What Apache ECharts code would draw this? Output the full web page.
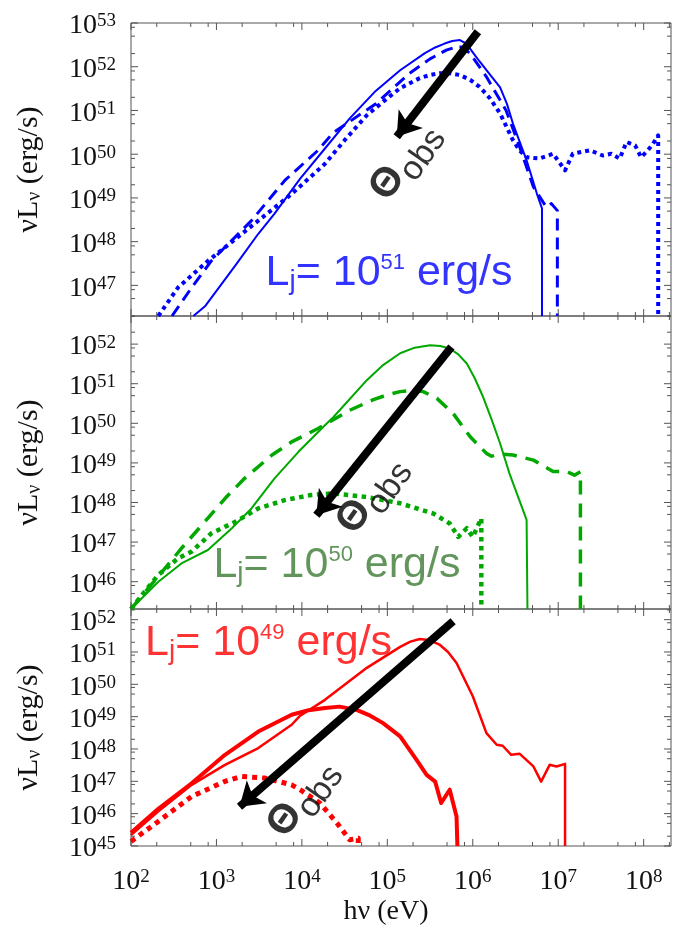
<!DOCTYPE html>
<html><head><meta charset="utf-8">
<script src="https://cdn.jsdelivr.net/npm/echarts@6/dist/echarts.min.js"></script>
<style>html,body{margin:0;padding:0;background:#fff}#c{width:673px;height:937px}</style>
</head><body><div id="c"></div>
<script>
// All values are log10: x = log10(hν / eV), y = log10(νLν / erg s^-1)
const xRange = [2, 8.32];
const yRanges = [[46.3, 53], [45.31, 52.71], [44.999, 52.33]];

// ---- Panel 1 : Lj = 1e51 erg/s (blue)
const blueSolid = [[2.73,46.3],[2.87,46.53],[3.22,47.45],[3.49,48.18],[3.68,48.64],[3.98,49.44],[4.27,50.13],[4.56,50.82],[4.85,51.42],[5.15,51.92],[5.44,52.31],[5.56,52.44],[5.67,52.53],[5.76,52.59],[5.85,52.61],[5.93,52.52],[6.0,52.33],[6.08,52.12],[6.16,51.92],[6.32,51.53],[6.4,51.15],[6.47,50.7],[6.63,49.86],[6.75,49.1],[6.81,48.76],[6.81,46.3]];
const blueDashed = [[2.48,46.3],[2.71,46.95],[2.94,47.56],[3.41,48.48],[3.8,49.4],[4.19,50.09],[4.36,50.48],[4.87,51.16],[5.26,51.85],[5.5,52.18],[5.69,52.38],[5.8,52.45],[5.88,52.45],[5.97,52.3],[6.06,52.05],[6.16,51.77],[6.39,51.0],[6.55,50.16],[6.71,49.25],[6.86,48.79],[6.92,48.87],[6.99,48.71],[6.99,46.3]];
const blueDotted = [[2.32,46.3],[2.55,46.95],[2.9,47.56],[3.1,47.87],[3.49,48.48],[3.88,49.09],[4.27,49.78],[4.5,50.32],[4.76,50.89],[4.97,51.23],[5.15,51.51],[5.38,51.74],[5.5,51.81],[5.61,51.85],[5.73,51.85],[5.85,51.81],[5.97,51.7],[6.08,51.54],[6.2,51.28],[6.32,50.93],[6.47,50.32],[6.55,50.08],[6.63,49.93],[6.78,49.9],[6.94,50.01],[7.08,49.63],[7.17,50.01],[7.37,50.09],[7.52,49.97],[7.62,50.01],[7.72,49.9],[7.8,50.28],[7.9,50.2],[7.97,49.93],[8.05,50.09],[8.11,50.24],[8.17,50.43],[8.17,46.3]];

// ---- Panel 2 : Lj = 1e50 erg/s (green)
const greenSolid = [[2.0,45.31],[2.32,46.0],[2.59,46.46],[2.9,46.8],[3.18,47.35],[3.41,47.85],[3.68,48.61],[3.96,49.28],[4.27,49.95],[4.37,50.16],[4.76,51.09],[4.95,51.47],[5.15,51.77],[5.32,51.91],[5.5,51.97],[5.62,51.95],[5.73,51.89],[5.83,51.74],[5.93,51.51],[6.02,51.15],[6.12,50.67],[6.22,50.1],[6.32,49.49],[6.43,48.73],[6.63,47.56],[6.64,45.31]];
const greenDashed = [[2.0,45.31],[2.2,45.83],[2.4,46.34],[2.59,46.84],[2.83,47.43],[3.1,48.1],[3.33,48.61],[3.65,49.2],[3.88,49.53],[4.19,49.87],[4.56,50.33],[4.83,50.59],[5.0,50.72],[5.15,50.8],[5.3,50.83],[5.42,50.8],[5.58,50.63],[5.77,50.25],[5.97,49.66],[6.16,49.24],[6.22,49.17],[6.32,49.22],[6.47,49.2],[6.71,49.07],[6.94,48.78],[7.1,48.78],[7.19,48.69],[7.26,48.78],[7.26,45.31]];
const greenDotted = [[2.0,45.31],[2.16,45.75],[2.32,46.17],[2.55,46.59],[2.71,46.76],[2.94,47.22],[3.22,47.51],[3.49,47.85],[3.8,48.06],[4.11,48.19],[4.37,48.23],[4.76,48.14],[5.15,47.98],[5.54,47.72],[5.73,47.47],[5.83,47.13],[5.93,47.35],[6.0,47.13],[6.1,47.6],[6.1,45.31]];

// ---- Panel 3 : Lj = 1e49 erg/s (red)
const redThin = [[2.0,45.34],[2.32,46.07],[2.71,46.89],[3.1,47.51],[3.49,48.03],[3.88,48.75],[3.98,49.03],[4.27,49.52],[4.76,50.51],[5.15,51.16],[5.27,51.32],[5.38,51.4],[5.5,51.36],[5.61,51.23],[5.71,51.0],[5.81,50.66],[6.0,49.63],[6.16,48.49],[6.28,48.13],[6.35,48.1],[6.45,47.82],[6.55,47.85],[6.71,47.46],[6.8,46.99],[6.9,47.51],[6.98,47.46],[7.08,47.54],[7.08,45.0]];
const redThick = [[2.0,45.41],[2.32,46.15],[2.71,46.94],[3.1,47.82],[3.49,48.54],[3.88,49.06],[4.08,49.2],[4.27,49.27],[4.44,49.31],[4.64,49.21],[4.8,49.03],[4.95,48.8],[5.15,48.39],[5.34,47.67],[5.46,47.2],[5.56,46.99],[5.63,46.33],[5.73,46.74],[5.81,45.91],[5.82,45.0]];
const redDotted = [[2.0,45.14],[2.32,45.76],[2.71,46.53],[3.1,47.0],[3.29,47.15],[3.57,47.1],[3.88,46.89],[3.98,46.74],[4.21,46.33],[4.41,45.71],[4.56,45.19],[4.66,45.24],[4.66,45.0]];

// ---- Annotations (data coordinates)
const arrowTail = [[6.06,52.8],[5.75,51.93],[5.77,51.95]];
const arrowEnd  = [[5.11,50.4],[4.17,47.68],[3.27,46.21]];
const obsLabelPos = [[5.19,49.85],[4.8,48.21],[3.99,46.5]];
const ljLabelPos = [[5.02,47.27],[4.41,46.42],[3.61,51.26]];
const ljExponent = ['51','50','49'];

const SERIF = 'Liberation Serif';
const SANS = 'Liberation Sans';
const BLUE = '#0000ff', GREEN = '#00a800', GREEN_TXT = '#3b7b32', RED = '#ff0000';
const tops = [23, 316, 609], heights = [293, 293, 237];

function expLabel(v) {
  const r = Math.round(v);
  if (Math.abs(v - r) > 1e-6) return '';
  return '{b|10}{s|' + r + '}';
}
const labelRich = {
  b: {fontSize: 28, fontFamily: SERIF, color: '#111', lineHeight: 22, padding: [6,0,0,0]},
  s: {fontSize: 19, fontFamily: SERIF, color: '#111', lineHeight: 12, verticalAlign: 'top'}
};

function tickSeries(i) {
  const yr = yRanges[i];
  const items = [];
  const fr = [[0,7],[Math.log10(2),4],[Math.log10(5),4],[Math.log10(8),4]];
  for (let d = Math.floor(xRange[0]); d <= xRange[1]; d++)
    for (const [f,len] of fr) { const v = d+f; if (v >= xRange[0]-1e-9 && v <= xRange[1]+1e-9) items.push([v,0,len]); }
  for (let d = Math.floor(yr[0]); d <= yr[1]; d++)
    for (const [f,len] of fr) { const v = d+f; if (v >= yr[0]-1e-9 && v <= yr[1]+1e-9) items.push([v,1,len]); }
  return {
    type: 'custom', xAxisIndex: i, yAxisIndex: i, data: items, silent: true, z: 4,
    renderItem: function (params, api) {
      const v = api.value(0), k = api.value(1), len = api.value(2);
      const st = {stroke: '#555', lineWidth: 1};
      if (k === 0) {
        const b = api.coord([v, yr[0]]), t = api.coord([v, yr[1]]);
        return {type:'group', children:[
          {type:'line', shape:{x1:b[0],y1:b[1],x2:b[0],y2:b[1]-len}, style:st},
          {type:'line', shape:{x1:t[0],y1:t[1],x2:t[0],y2:t[1]+len}, style:st}]};
      } else {
        const l = api.coord([xRange[0], v]), r = api.coord([xRange[1], v]);
        return {type:'group', children:[
          {type:'line', shape:{x1:l[0],y1:l[1],x2:l[0]+len,y2:l[1]}, style:st},
          {type:'line', shape:{x1:r[0],y1:r[1],x2:r[0]-len,y2:r[1]}, style:st}]};
      }
    }
  };
}

function lineSeries(i, data, color, width, type) {
  return {type:'line', xAxisIndex:i, yAxisIndex:i, data: data, showSymbol:false, symbol:'none', silent:true, z:2,
    lineStyle:{color: color, width: width, type: type, cap:'butt', join:'round'}};
}
function arrowSeries(i) {
  return {type:'line', xAxisIndex:i, yAxisIndex:i, data: [], symbol:'none', silent:true,
    markLine: {silent:true, animation:false, symbol:['none','arrow'], symbolSize:23,
      label:{show:false}, lineStyle:{color:'#000', width:8, type:'solid', cap:'butt'},
      emphasis:{disabled:true},
      data:[[{coord: arrowTail[i]}, {coord: arrowEnd[i]}]]}};
}
function obsSeries(i) {
  return {type:'scatter', xAxisIndex:i, yAxisIndex:i, data:[obsLabelPos[i]], symbolSize:1, silent:true, z:6,
    itemStyle:{color:'rgba(0,0,0,0)'},
    label:{show:true, position:'inside', rotate:55, formatter:'{t|Θ}{o|obs}',
      rich:{t:{fontFamily:SANS, fontSize:41, fontWeight:'bold', color:'#000'}, o:{fontFamily:SANS, fontSize:34, color:'#000', padding:[26,0,0,0]}}}};
}
function ljSeries(i, color) {
  return {type:'scatter', xAxisIndex:i, yAxisIndex:i, data:[ljLabelPos[i]], symbolSize:1, silent:true, z:6,
    itemStyle:{color:'rgba(0,0,0,0)'},
    label:{show:true, position:'inside', formatter:'{m|L}{j|j}{m|= 10}{p|' + ljExponent[i] + '}{m| erg/s}',
      rich:{m:{fontFamily:SANS, fontSize:43, color:color},
            j:{fontFamily:SANS, fontSize:28, color:color, padding:[16,0,0,0]},
            p:{fontFamily:SANS, fontSize:22, color:color, padding:[0,0,21,0]}}}};
}

const grids = tops.map((t,i) => ({left:131, width:540, top:t, height:heights[i], show:true,
  borderColor:'#555', borderWidth:1, backgroundColor:'transparent', containLabel:false, outerBoundsMode:'none'}));

const xAxes = [0,1,2].map(i => ({
  type:'value', gridIndex:i, min:xRange[0], max:xRange[1], splitNumber:7,
  axisLine:{show:false}, axisTick:{show:false}, splitLine:{show:false},
  axisLabel: i === 2 ? {show:true, formatter:expLabel, rich:labelRich, margin:22, showMinLabel:true, showMaxLabel:true, hideOverlap:false} : {show:false},
  name: i === 2 ? 'hν (eV)' : '', nameLocation:'middle', nameGap:52,
  nameTextStyle:{fontFamily:SERIF, fontSize:28, color:'#111', padding:[0,30,0,0]}
}));
const yAxes = [0,1,2].map(i => ({
  type:'value', gridIndex:i, min:yRanges[i][0], max:yRanges[i][1], splitNumber:7,
  axisLine:{show:false}, axisTick:{show:false}, splitLine:{show:false},
  axisLabel:{show:true, formatter:expLabel, rich:labelRich, margin:15, showMinLabel:false, showMaxLabel:true, hideOverlap:false},
  name:'{a|νL}{u|ν}{a| (erg/s)}', nameLocation:'middle', nameRotate:90, nameGap:86,
  nameTextStyle:{rich:{a:{fontFamily:SERIF, fontSize:30, color:'#111'}, u:{fontFamily:SERIF, fontSize:20, color:'#111', padding:[12,0,0,0]}}}
}));

const series = [
  lineSeries(0, blueSolid, BLUE, 2, 'solid'),
  lineSeries(0, blueDashed, BLUE, 3, [12,7]),
  lineSeries(0, blueDotted, BLUE, 4, [4,4]),
  lineSeries(1, greenSolid, GREEN, 2, 'solid'),
  lineSeries(1, greenDashed, GREEN, 3.5, [14,9]),
  lineSeries(1, greenDotted, GREEN, 4.5, [4.5,4.5]),
  lineSeries(2, redThin, RED, 2.5, 'solid'),
  lineSeries(2, redThick, RED, 4, 'solid'),
  lineSeries(2, redDotted, RED, 5, [5,5]),
  arrowSeries(0), arrowSeries(1), arrowSeries(2),
  obsSeries(0), obsSeries(1), obsSeries(2),
  ljSeries(0, BLUE), ljSeries(1, GREEN_TXT), ljSeries(2, RED),
  tickSeries(0), tickSeries(1), tickSeries(2)
];

const chart = echarts.init(document.getElementById('c'));
chart.setOption({animation:false, backgroundColor:'#fff', grid:grids, xAxis:xAxes, yAxis:yAxes, series:series});
</script></body></html>
